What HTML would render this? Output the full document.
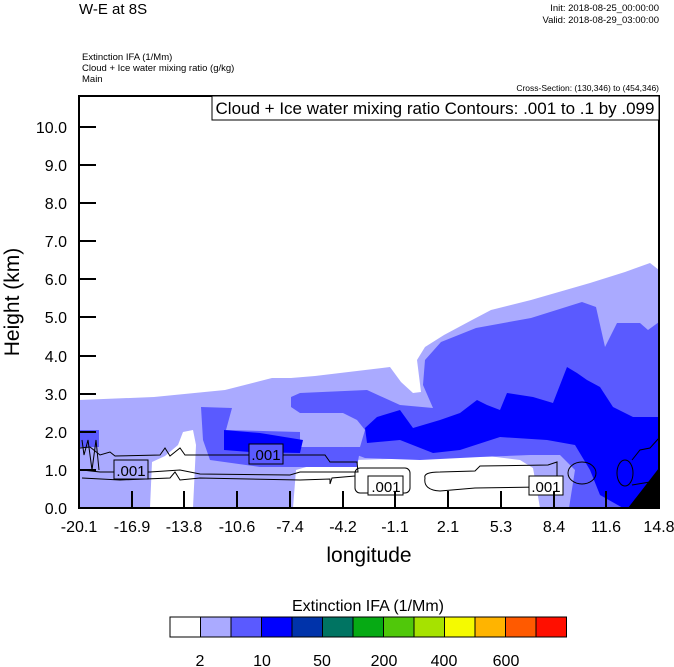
<!DOCTYPE html>
<html><head><meta charset="utf-8"><style>
body{margin:0;background:#fff;}
svg{display:block;font-family:"Liberation Sans",sans-serif;}
</style></head><body>
<svg width="674" height="667" viewBox="0 0 674 667" xmlns="http://www.w3.org/2000/svg">
<rect width="674" height="667" fill="#fff"/>
<text x="79" y="14" font-size="15">W-E at 8S</text>
<text x="659" y="11" font-size="9.5" text-anchor="end">Init: 2018-08-25_00:00:00</text>
<text x="659" y="23" font-size="9.5" text-anchor="end">Valid: 2018-08-29_03:00:00</text>
<text x="82" y="60" font-size="9.5">Extinction IFA   (1/Mm)</text>
<text x="82" y="71" font-size="9.5">Cloud + Ice water mixing ratio   (g/kg)</text>
<text x="82" y="82" font-size="9.5">Main</text>
<text x="659" y="91" font-size="8.5" text-anchor="end">Cross-Section: (130,346) to (454,346)</text>

<clipPath id="c"><rect x="79" y="96" width="580" height="412"/></clipPath>
<g clip-path="url(#c)">
<polygon fill="#aaaaff" points="79,400 154,397 225,390 272,378 291,378 315,376 390,367 401,382 413,393 421,392 417,360 425,347 444,335 472,320 491,310 531,300 590,283 625,272 650,263 659,270 659,508 79,508"/>
<polygon fill="#fff" points="293,508 296,470 320,463 355,460 420,458 480,455 520,460 533,468 540,508"/>
<polygon fill="#fff" points="150,508 152,462 165,456 178,445 183,432 193,430 196,445 193,508"/>
<!-- medium blue A -->
<polygon fill="#5a5aff" points="659,322 648,330 640,323 617,323 605,347 596,307 582,302 531,318 476,328 441,342 425,360 423,385 433,408 400,405 367,390 300,393 291,397 291,407 300,413 343,413 357,420 365,430 360,447 343,447 357,455 365,458 420,460 480,457 530,455 560,455 575,470 569,508 659,508"/>
<!-- medium blue B -->
<polygon fill="#5a5aff" points="201,407 232,408 226,430 300,432 300,447 343,447 360,450 357,467 260,467 210,460 203,440"/>
<polygon fill="#5a5aff" points="79,430 99,430 99,447 79,447"/>
<!-- blue -->
<polygon fill="#0000ff" points="365,428 377,417 400,410 413,428 440,420 460,413 477,400 487,405 500,410 507,393 533,397 553,403 567,367 577,373 587,380 600,387 613,407 633,417 659,417 659,508 623,508 600,495 590,470 575,445 547,440 500,437 460,450 433,453 400,440 367,443"/>
<polygon fill="#0000ff" points="224,430 260,433 303,440 300,453 250,452 224,450"/>
<polygon fill="#000" points="628,508 659,468 659,508"/>
</g>
<g fill="none" stroke="#000" stroke-width="1">
<path d="M80,448 L90,447 L100,455 L110,452 L115,456 L160,455 L165,448 L170,456 L180,448 L185,455 L325,455 L330,462 L357,462 L358,472 L300,472 L290,475 L200,474 L180,470 L150,472 L100,472 L82,470"/>
<path d="M82,478 L120,480 L170,478 L175,472 L180,480 L200,478 L300,480 L330,479 L330,484 L332,478 L355,476"/>
<path d="M82,440 L84,455 L88,440 L92,470 L96,440 L99,470"/>
<rect x="355" y="468" width="55" height="25" rx="5"/>
<path d="M425,478 Q423,472 440,472 L475,471 L480,466 L548,465 L557,462 L557,480 L540,487 L475,488 L440,491 Q423,490 425,478 Z"/>
<ellipse cx="582" cy="473" rx="14" ry="11"/>
<ellipse cx="625" cy="473" rx="8" ry="13"/>
<path d="M632,460 L640,450 L650,448 L659,438 M632,485 L650,482 L659,470"/>
</g>
<g font-size="15" text-anchor="middle">
<rect x="114" y="460" width="34" height="19" fill="#aaaaff" stroke="#000"/><text x="131" y="476">.001</text>
<rect x="249" y="444" width="34" height="20" fill="#5a5aff" stroke="#000"/><text x="266" y="460">.001</text>
<rect x="368" y="476" width="35" height="19" fill="#fff" stroke="#000"/><text x="386" y="492">.001</text>
<rect x="529" y="476" width="34" height="19" fill="#fff" stroke="#000"/><text x="546" y="492">.001</text>
</g>
<rect x="79" y="96" width="580" height="412" fill="none" stroke="#000" stroke-width="2"/>
<rect x="212" y="96" width="447" height="24" fill="#fff" stroke="#000" stroke-width="1"/>
<text x="435" y="114" font-size="17" text-anchor="middle">Cloud + Ice water mixing ratio Contours: .001 to .1 by .099</text>
<g stroke="#000" stroke-width="2">
<line x1="79" y1="508" x2="96" y2="508"/><line x1="79" y1="470" x2="96" y2="470"/><line x1="79" y1="432" x2="96" y2="432"/><line x1="79" y1="394" x2="96" y2="394"/><line x1="79" y1="356" x2="96" y2="356"/><line x1="79" y1="317" x2="96" y2="317"/><line x1="79" y1="279" x2="96" y2="279"/><line x1="79" y1="241" x2="96" y2="241"/><line x1="79" y1="203" x2="96" y2="203"/><line x1="79" y1="165" x2="96" y2="165"/><line x1="79" y1="127" x2="96" y2="127"/>
<line x1="132" y1="508" x2="132" y2="491"/><line x1="184" y1="508" x2="184" y2="491"/><line x1="237" y1="508" x2="237" y2="491"/><line x1="290" y1="508" x2="290" y2="491"/><line x1="343" y1="508" x2="343" y2="491"/><line x1="395" y1="508" x2="395" y2="491"/><line x1="448" y1="508" x2="448" y2="491"/><line x1="501" y1="508" x2="501" y2="491"/><line x1="554" y1="508" x2="554" y2="491"/><line x1="606" y1="508" x2="606" y2="491"/>
</g>
<g font-size="16" text-anchor="end">
<text x="67" y="514">0.0</text><text x="67" y="476">1.0</text><text x="67" y="438">2.0</text><text x="67" y="400">3.0</text><text x="67" y="362">4.0</text><text x="67" y="323">5.0</text><text x="67" y="285">6.0</text><text x="67" y="247">7.0</text><text x="67" y="209">8.0</text><text x="67" y="171">9.0</text><text x="67" y="133">10.0</text>
</g>
<g font-size="16" text-anchor="middle">
<text x="79" y="532">-20.1</text><text x="132" y="532">-16.9</text><text x="184" y="532">-13.8</text><text x="237" y="532">-10.6</text><text x="290" y="532">-7.4</text><text x="343" y="532">-4.2</text><text x="395" y="532">-1.1</text><text x="448" y="532">2.1</text><text x="501" y="532">5.3</text><text x="554" y="532">8.4</text><text x="606" y="532">11.6</text><text x="659" y="532">14.8</text>
</g>
<text x="369" y="562" font-size="21" text-anchor="middle">longitude</text>
<text transform="translate(19,302) rotate(-90)" font-size="21" text-anchor="middle">Height (km)</text>
<text x="368" y="611" font-size="16" text-anchor="middle">Extinction IFA  (1/Mm)</text>
<g stroke="#000" stroke-width="1">
<rect x="170" y="617" width="30.5" height="20" fill="#fff"/>
<rect x="200.5" y="617" width="30.5" height="20" fill="#aaaaff"/>
<rect x="231" y="617" width="30.5" height="20" fill="#5a5aff"/>
<rect x="261.5" y="617" width="30.5" height="20" fill="#0000ff"/>
<rect x="292" y="617" width="30.5" height="20" fill="#0033aa"/>
<rect x="322.5" y="617" width="30.5" height="20" fill="#007462"/>
<rect x="353" y="617" width="30.5" height="20" fill="#06aa14"/>
<rect x="383.5" y="617" width="30.5" height="20" fill="#50c80a"/>
<rect x="414" y="617" width="30.5" height="20" fill="#a6e200"/>
<rect x="444.5" y="617" width="30.5" height="20" fill="#f5fa00"/>
<rect x="475" y="617" width="30.5" height="20" fill="#ffb400"/>
<rect x="505.5" y="617" width="30.5" height="20" fill="#ff5a00"/>
<rect x="536" y="617" width="30.5" height="20" fill="#ff0f00"/>
</g>
<g font-size="16" text-anchor="middle">
<text x="200" y="666">2</text><text x="262" y="666">10</text><text x="322" y="666">50</text><text x="384" y="666">200</text><text x="444" y="666">400</text><text x="506" y="666">600</text>
</g>
</svg>
</body></html>
